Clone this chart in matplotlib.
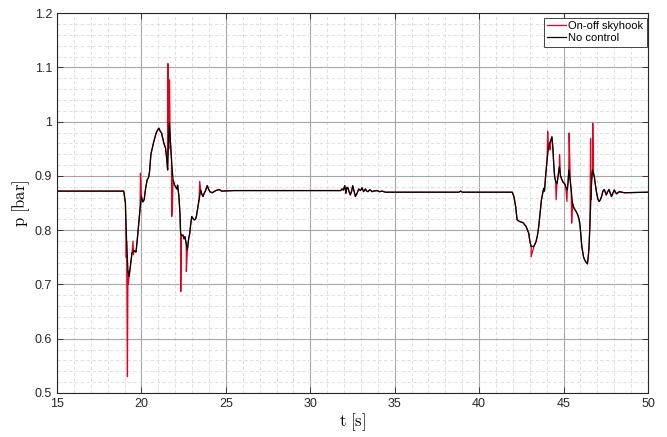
import numpy as np
import matplotlib
matplotlib.use("Agg")
import matplotlib.pyplot as plt
from matplotlib.ticker import MultipleLocator

plt.rcParams['font.family'] = ['Liberation Sans', 'DejaVu Sans']
plt.rcParams['mathtext.fontset'] = 'cm'

# no control pressure trace
t_nc = [15.0, 18.95, 19.05, 19.12, 19.2, 19.27, 19.35, 19.44, 19.55, 19.68, 19.76, 19.84, 19.92,
        20.0, 20.08, 20.16, 20.25, 20.34, 20.42, 20.48, 20.56, 20.62, 20.73, 20.87, 20.95,
        21.03, 21.12, 21.19, 21.33, 21.43, 21.5, 21.55, 21.6, 21.65, 21.7, 21.78, 21.87, 21.95,
        22.02, 22.1, 22.14, 22.22, 22.28, 22.32, 22.4, 22.46, 22.52, 22.58, 22.65, 22.72, 22.8,
        22.86, 22.92, 22.98, 23.05, 23.12, 23.2, 23.25, 23.33, 23.41, 23.51, 23.58, 23.65, 23.71,
        23.77, 23.85, 23.9, 23.97, 24.05, 24.2, 24.3, 24.4, 24.6, 24.75, 25.5, 31.8,
        31.88, 31.96, 32.04, 32.11, 32.17, 32.23, 32.3, 32.37, 32.45, 32.51, 32.59, 32.67, 32.77,
        32.87, 32.97, 33.06, 33.16, 33.26, 33.34, 33.42, 33.5, 33.56, 33.65, 33.75, 33.95, 34.1,
        34.25, 34.45, 38.8, 38.9, 39.0, 41.96,
        42.06, 42.16, 42.25, 42.39, 42.59, 42.78, 42.94, 43.0, 43.08, 43.24, 43.37, 43.45, 43.53,
        43.62, 43.69, 43.82, 43.87, 43.92, 44.02, 44.1, 44.16, 44.24, 44.31, 44.37, 44.42, 44.47,
        44.53, 44.61, 44.68, 44.75, 44.82, 44.9, 44.98, 45.06, 45.13, 45.22, 45.27, 45.31, 45.4,
        45.45, 45.53, 45.6, 45.69, 45.77, 45.84, 45.92, 45.98, 46.04, 46.08, 46.18, 46.25, 46.31,
        46.41, 46.46, 46.51, 46.56, 46.62, 46.66, 46.71, 46.77, 46.82, 46.9, 46.96, 47.03, 47.1,
        47.18, 47.25, 47.33, 47.41, 47.47, 47.53, 47.6, 47.69, 47.77, 47.84, 47.92, 48.0, 48.07,
        48.14, 48.3, 48.6, 50.0]
p_nc = [0.872, 0.872, 0.85, 0.78, 0.725, 0.715, 0.735, 0.758, 0.762, 0.76, 0.785, 0.813, 0.84,
        0.862, 0.852, 0.856, 0.878, 0.893, 0.897, 0.908, 0.94, 0.948, 0.963, 0.979, 0.984,
        0.988, 0.982, 0.979, 0.96, 0.951, 0.93, 0.911, 0.96, 0.997, 0.97, 0.93, 0.893, 0.884,
        0.88, 0.876, 0.883, 0.862, 0.83, 0.794, 0.79, 0.791, 0.784, 0.788, 0.775, 0.764, 0.785,
        0.794, 0.812, 0.825, 0.822, 0.819, 0.82, 0.825, 0.84, 0.856, 0.874, 0.866, 0.862, 0.868,
        0.871, 0.878, 0.882, 0.876, 0.871, 0.869, 0.871, 0.873, 0.875, 0.872, 0.873, 0.873,
        0.876, 0.874, 0.882, 0.868, 0.879, 0.878, 0.871, 0.865, 0.872, 0.882, 0.872, 0.862, 0.868,
        0.876, 0.873, 0.878, 0.871, 0.876, 0.872, 0.871, 0.874, 0.874, 0.871, 0.872, 0.873, 0.871,
        0.872, 0.870, 0.870, 0.872, 0.870, 0.870,
        0.862, 0.844, 0.819, 0.816, 0.814, 0.807, 0.794, 0.78, 0.77, 0.77, 0.779, 0.79, 0.807,
        0.835, 0.856, 0.877, 0.872, 0.893, 0.929, 0.95, 0.96, 0.965, 0.972, 0.95, 0.92, 0.899,
        0.89, 0.886, 0.9, 0.917, 0.9, 0.893, 0.888, 0.886, 0.88, 0.874, 0.89, 0.911, 0.89,
        0.874, 0.85, 0.842, 0.837, 0.833, 0.828, 0.82, 0.807, 0.785, 0.77, 0.751, 0.745, 0.742,
        0.738, 0.75, 0.77, 0.81, 0.856, 0.89, 0.911, 0.905, 0.899, 0.88, 0.868, 0.858, 0.853,
        0.856, 0.862, 0.872, 0.875, 0.87, 0.865, 0.87, 0.875, 0.868, 0.862, 0.868, 0.874, 0.87,
        0.867, 0.871, 0.869, 0.870]

# on-off skyhook: follows the same trace but with valve switching spikes
t_spike = [19.10, 19.17, 19.22, 19.50, 19.53, 19.94, 21.57, 21.62, 21.66, 21.79, 21.83,
           22.33, 22.36, 22.66, 23.45, 43.08, 44.06, 44.20, 44.56, 44.76, 45.20, 45.33,
           45.48, 46.60, 46.73]
p_spike = [0.75, 0.530, 0.70, 0.78, 0.755, 0.905, 1.107, 0.95, 1.077, 0.825, 0.835,
           0.687, 0.79, 0.724, 0.89, 0.751, 0.982, 0.948, 0.856, 0.939, 0.853, 0.979,
           0.813, 0.969, 0.997]

y_ticks = [0.5, 0.6, 0.7, 0.8, 0.9, 1.0, 1.1, 1.2]
y_labels = ['0.5', '0.6', '0.7', '0.8', '0.9', '1', '1.1', '1.2']

t_sky = np.concatenate([t_nc, t_spike])
p_sky = np.concatenate([p_nc, p_spike])
order = np.argsort(t_sky, kind='stable')
t_sky, p_sky = t_sky[order], p_sky[order]

fig, ax = plt.subplots(figsize=(6.67, 4.37), dpi=100)
fig.subplots_adjust(left=0.0855, right=0.9715, bottom=0.1007, top=0.970)

ax.plot(t_sky, p_sky, color='#e2001a', linewidth=0.9, label='On-off skyhook')
ax.plot(t_nc, p_nc, color='black', linewidth=0.9, label='No control')

ax.set_xlim(15, 50)
ax.set_ylim(0.5, 1.2)
ax.xaxis.set_major_locator(MultipleLocator(5))
ax.xaxis.set_minor_locator(MultipleLocator(1))
ax.set_yticks(y_ticks)
ax.set_yticklabels(y_labels)
ax.yaxis.set_minor_locator(MultipleLocator(0.02))

ax.grid(True, which='major', color='#a6a6a6', linewidth=0.8, linestyle='-')
ax.grid(True, which='minor', color='#d9d9d9', linewidth=0.6, linestyle=(0, (4, 3)))
ax.set_axisbelow(True)

ax.tick_params(which='major', direction='in', length=4, top=True, right=True,
               labelsize=9, color='#262626', labelcolor='#262626', width=0.6)
ax.tick_params(which='minor', length=0)
for s in ax.spines.values():
    s.set_color('#262626')
    s.set_linewidth(0.8)

ax.set_xlabel(r'$\mathrm{t\ [s]}$', fontsize=12, labelpad=1)
ax.set_ylabel(r'$\mathrm{p\ [bar]}$', fontsize=12, labelpad=2)

leg = ax.legend(loc='upper right', bbox_to_anchor=(0.998, 0.988), fontsize=8,
                fancybox=False, framealpha=1, edgecolor='#262626', handlelength=1.7,
                handletextpad=0.2, borderpad=0.3, labelspacing=0.2, borderaxespad=0)
leg.get_frame().set_linewidth(0.6)

fig.savefig('out.png', dpi=100)
